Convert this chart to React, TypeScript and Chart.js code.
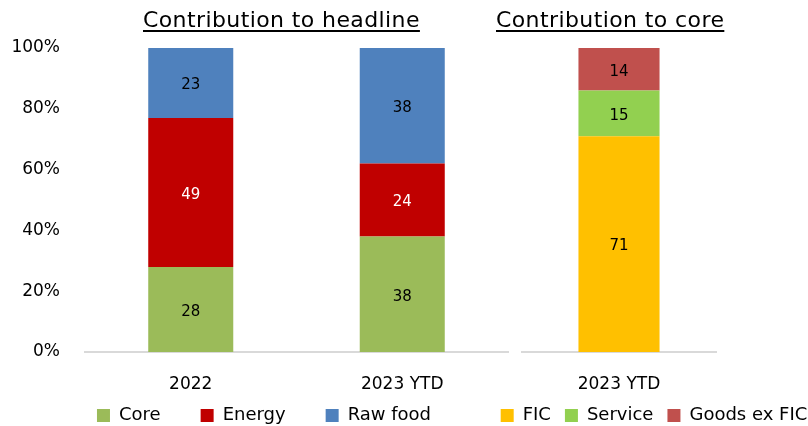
import React, { useEffect, useRef } from "react";
import { Chart, registerables } from "chart.js";

Chart.register(...registerables);

// ---- data ----
const headlineCategories = ["2022", "2023 YTD"];
const coreCategories = ["2023 YTD"];
const coreShare = [28, 38];
const energyShare = [49, 24];
const rawFoodShare = [23, 38];
const ficShare = [71];
const serviceShare = [15];
const goodsExFicShare = [14];
const headlineTitle = "Contribution to headline";
const coreTitle = "Contribution to core";

const FONT = "'DejaVu Sans', Verdana, sans-serif";
const LEGEND_FONT = 18;
const X_AXIS_HEIGHT = 44;
const LEGEND_CENTER_Y = 415.5;

const valueLabels = {
  id: "valueLabels",
  afterDatasetsDraw(chart: any) {
    const ctx = chart.ctx;
    ctx.save();
    ctx.font = `15px ${FONT}`;
    ctx.textAlign = "center";
    ctx.textBaseline = "middle";
    chart.data.datasets.forEach((ds: any, i: number) => {
      const meta = chart.getDatasetMeta(i);
      if (meta.hidden) return;
      meta.data.forEach((el: any, j: number) => {
        const v = ds.data[j];
        if (v == null) return;
        const p = el.getProps(["x", "y", "base"], true);
        ctx.fillStyle = ds.labelColor || "#000";
        ctx.fillText(String(v), p.x, (p.y + p.base) / 2 + 2.5);
      });
    });
    ctx.restore();
  },
};

// moves the legend row so that its items sit at LEGEND_CENTER_Y
const legendPlacement = {
  id: "legendPlacement",
  afterLayout(chart: any) {
    const lg = chart.legend;
    if (!lg) return;
    const pad = lg.options.labels.padding;
    const want = LEGEND_CENTER_Y - LEGEND_FONT / 2 - pad;
    const dy = want - lg.top;
    lg.top += dy;
    lg.bottom += dy;
  },
};

function makeConfig(opts: {
  labels: string[];
  datasets: any[];
  leftWidth: number;
  rightWidth: number;
  showYTicks: boolean;
  legendPadding: number;
  barPct: number;
}) {
  return {
    type: "bar" as const,
    data: {
      labels: opts.labels,
      datasets: opts.datasets.map((d) => ({
        ...d,
        barPercentage: opts.barPct,
        categoryPercentage: 1,
        borderWidth: 0,
      })),
    },
    plugins: [valueLabels, legendPlacement],
    options: {
      responsive: false,
      animation: false as const,
      devicePixelRatio: 1,
      layout: { padding: { top: 48, bottom: 0, left: 0, right: 0 } },
      plugins: {
        tooltip: { enabled: false },
        title: { display: false },
        legend: {
          display: true,
          position: "bottom" as const,
          labels: {
            boxWidth: 13,
            boxHeight: 13,
            padding: opts.legendPadding,
            color: "#000",
            font: { family: FONT, size: LEGEND_FONT },
          },
        },
      },
      scales: {
        x: {
          stacked: true,
          grid: { display: false, drawTicks: false },
          border: { display: true, color: "#d9d9d9", width: 2 },
          ticks: {
            autoSkip: false,
            maxRotation: 0,
            minRotation: 0,
            color: "#000",
            padding: 22,
            font: { family: FONT, size: 17 },
          },
          afterFit: (s: any) => {
            s.height = X_AXIS_HEIGHT;
          },
        },
        y: {
          stacked: true,
          min: 0,
          max: 100,
          grid: { display: false, drawTicks: false },
          border: { display: false },
          ticks: {
            display: opts.showYTicks,
            stepSize: 20,
            padding: 25,
            color: "#000",
            font: { family: FONT, size: 17 },
            callback: (v: any) => v + "%",
          },
          afterFit: (s: any) => {
            s.width = opts.leftWidth;
          },
        },
        y2: {
          type: "linear" as const,
          position: "right" as const,
          display: true,
          grid: { display: false, drawTicks: false },
          border: { display: false },
          ticks: { display: false },
          afterFit: (s: any) => {
            s.width = opts.rightWidth;
          },
        },
      },
    },
  };
}

function BarChart(props: { config: any; left: number; width: number; height: number }) {
  const ref = useRef<HTMLCanvasElement | null>(null);
  useEffect(() => {
    if (!ref.current) return;
    const chart = new Chart(ref.current, props.config);
    return () => chart.destroy();
  }, []);
  return (
    <canvas
      ref={ref}
      width={props.width}
      height={props.height}
      style={{ position: "absolute", left: props.left, top: 0, width: props.width, height: props.height }}
    />
  );
}

const titleStyle: React.CSSProperties = {
  position: "absolute",
  top: 9,
  fontFamily: FONT,
  fontSize: 22,
  lineHeight: "22px",
  letterSpacing: "0.4px",
  color: "#000",
  textDecoration: "underline",
  textUnderlineOffset: "3px",
  whiteSpace: "nowrap",
};

const LEFT_PAD = 40;
const RIGHT_PAD = 14;

export default function App() {
  const headlineConfig = makeConfig({
    labels: headlineCategories,
    datasets: [
      { label: "Core", data: coreShare, backgroundColor: "#9BBB59", labelColor: "#000" },
      { label: "Energy", data: energyShare, backgroundColor: "#C00000", labelColor: "#fff" },
      { label: "Raw food", data: rawFoodShare, backgroundColor: "#4F81BD", labelColor: "#000" },
    ],
    leftWidth: 85,
    rightWidth: 20,
    showYTicks: true,
    legendPadding: LEFT_PAD,
    barPct: 0.402,
  });
  const coreConfig = makeConfig({
    labels: coreCategories,
    datasets: [
      { label: "FIC", data: ficShare, backgroundColor: "#FFC000", labelColor: "#000" },
      { label: "Service", data: serviceShare, backgroundColor: "#92D050", labelColor: "#000" },
      { label: "Goods ex FIC", data: goodsExFicShare, backgroundColor: "#C0504D", labelColor: "#000" },
    ],
    leftWidth: 52,
    rightWidth: 122,
    showYTicks: false,
    legendPadding: RIGHT_PAD,
    barPct: 0.418,
  });
  const legendH = (p: number) => LEGEND_FONT + p + 10;
  return (
    <div
      style={{
        position: "absolute",
        left: 0,
        top: 0,
        width: 808,
        height: 426,
        overflow: "hidden",
        background: "#fff",
      }}
    >
      <BarChart config={headlineConfig} left={0} width={528} height={352 + X_AXIS_HEIGHT + legendH(LEFT_PAD)} />
      <BarChart config={coreConfig} left={470} width={368} height={352 + X_AXIS_HEIGHT + legendH(RIGHT_PAD)} />
      <div style={{ ...titleStyle, left: 143 }}>{headlineTitle}</div>
      <div style={{ ...titleStyle, left: 496 }}>{coreTitle}</div>
    </div>
  );
}
